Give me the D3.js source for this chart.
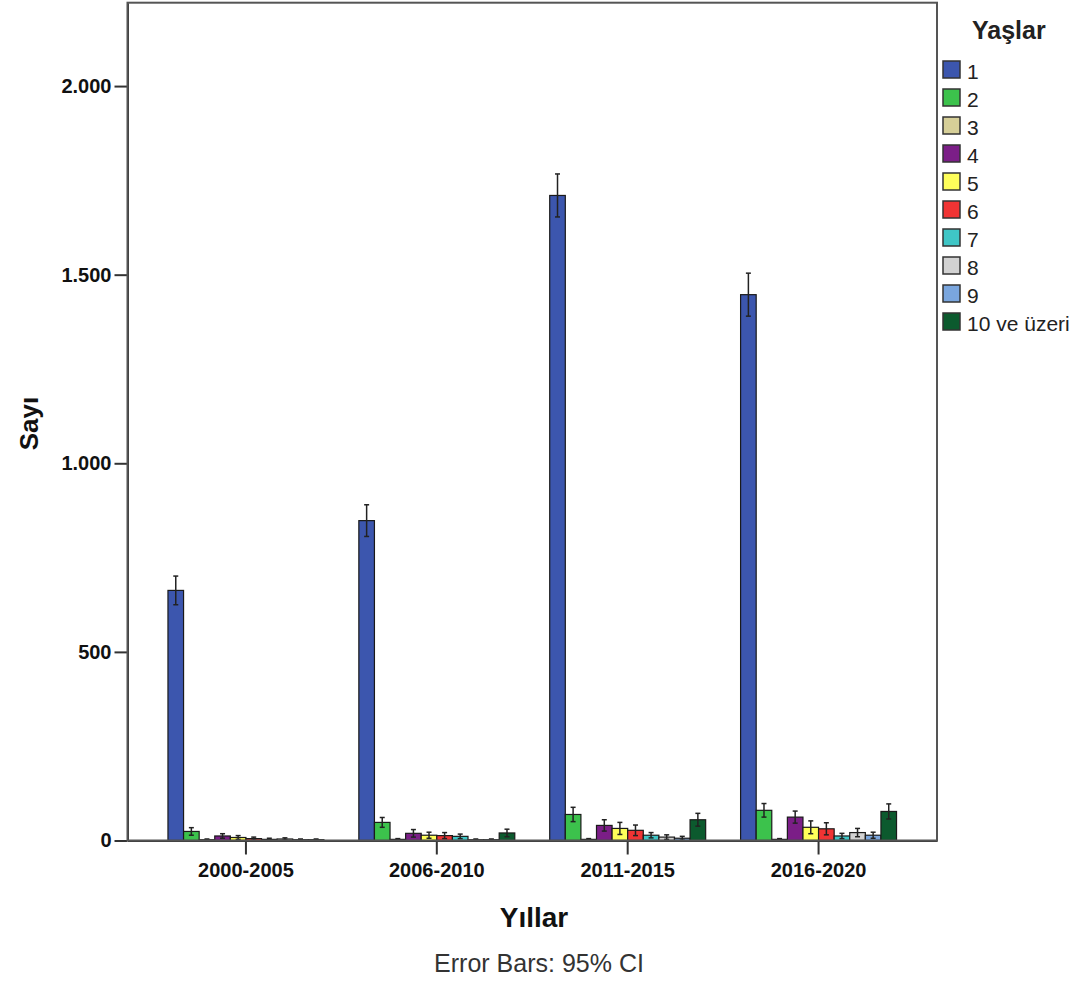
<!DOCTYPE html>
<html>
<head>
<meta charset="utf-8">
<script src="https://cdn.jsdelivr.net/npm/d3@7"></script>
<style>
  body { margin: 0; background: #fff; }
  text { font-family: "Liberation Sans", Arial, sans-serif; }
</style>
</head>
<body>
<div id="chart"></div>
<script>
// Data
var periods = ['2000-2005', '2006-2010', '2011-2015', '2016-2020'];
var ages = ['1', '2', '3', '4', '5', '6', '7', '8', '9', '10 ve üzeri'];
var ageColors = ['#3c56ae', '#3cc24c', '#d6cf98', '#7b1e87', '#ffff5a', '#f03434', '#3fc6c6', '#d2d2d2', '#7aa6de', '#0c5a2e'];

// mean per age, one array per period
var means = [
  [663, 24, 2, 12, 8, 5, 3, 4, 2, 2],
  [848, 48, 3, 19, 14, 13, 11, 2, 2, 20],
  [1710, 69, 3, 40, 32, 27, 14, 9, 6, 55],
  [1447, 80, 3, 62, 35, 31, 12, 21, 14, 77]
];
// 95% CI half width
var ciHalf = [
  [38, 10, 2, 6, 5, 4, 3, 3, 2, 2],
  [42, 13, 2, 10, 8, 8, 6, 2, 2, 10],
  [57, 19, 2, 15, 16, 14, 7, 6, 5, 17],
  [57, 18, 2, 16, 17, 16, 7, 11, 8, 20]
];
var yTicks = [0, 500, 1000, 1500, 2000];

var W = 1089, H = 982;
var plot = { left: 127.5, right: 937, top: 2.7, bottom: 840.5 };

var svg = d3.select('#chart')
  .append('svg')
    .attr('width', W)
    .attr('height', H);

// Scales
var X = d3.scaleBand()
  .domain(periods)
  .range([plot.left, plot.right])
  .paddingInner(0.183)
  .paddingOuter(0.212);

var XA = d3.scaleBand()
  .domain(ages)
  .range([0, X.bandwidth()]);

var Y = d3.scaleLinear()
  .domain([0, 2221])
  .range([plot.bottom, plot.top]);

var fmt = function (d) { return d3.format(',')(d).replace(/,/g, '.'); };

// Bars
var rows = [];
periods.forEach(function (p, i) {
  ages.forEach(function (a, j) {
    rows.push({ period: p, age: a, color: ageColors[j], mean: means[i][j], ci: ciHalf[i][j] });
  });
});

var bars = svg.append('g');
bars.selectAll('rect')
  .data(rows)
  .enter()
  .append('rect')
    .attr('x', function (d) { return X(d.period) + XA(d.age); })
    .attr('y', function (d) { return Y(d.mean); })
    .attr('width', XA.bandwidth())
    .attr('height', function (d) { return Y(0) - Y(d.mean); })
    .attr('fill', function (d) { return d.color; })
    .attr('stroke', '#1a1a1a')
    .attr('stroke-width', 1.2);

// Error bars
var err = svg.append('g')
  .attr('stroke', '#222')
  .attr('stroke-width', 1.5);
rows.forEach(function (d) {
  var cx = X(d.period) + XA(d.age) + XA.bandwidth() / 2;
  var lo = Math.max(0, d.mean - d.ci), hi = d.mean + d.ci;
  err.append('line').attr('x1', cx).attr('x2', cx).attr('y1', Y(lo)).attr('y2', Y(hi));
  err.append('line').attr('x1', cx - 2.5).attr('x2', cx + 2.5).attr('y1', Y(hi)).attr('y2', Y(hi));
  err.append('line').attr('x1', cx - 2.5).attr('x2', cx + 2.5).attr('y1', Y(lo)).attr('y2', Y(lo));
});

// Y Axis
var yAxis = svg.append('g')
  .attr('transform', 'translate(' + plot.left + ',0)')
  .call(d3.axisLeft(Y).tickValues(yTicks).tickFormat(fmt).tickSize(13).tickSizeOuter(0).tickPadding(3));
yAxis.select('.domain').attr('stroke', '#333').attr('stroke-width', 2);
yAxis.selectAll('.tick line').attr('stroke', '#333').attr('stroke-width', 2);
yAxis.selectAll('.tick text')
  .attr('font-size', '20px')
  .attr('font-weight', 'bold')
  .attr('fill', '#111');

// X Axis
var xAxis = svg.append('g')
  .attr('transform', 'translate(0,' + plot.bottom + ')')
  .call(d3.axisBottom(X).tickSize(14).tickSizeOuter(0).tickPadding(8));
xAxis.select('.domain').attr('stroke', '#333').attr('stroke-width', 2);
xAxis.selectAll('.tick line').attr('stroke', '#333').attr('stroke-width', 2);
xAxis.selectAll('.tick text')
  .attr('font-size', '20px')
  .attr('font-weight', 'bold')
  .attr('fill', '#111');

// Frame
svg.append('rect')
  .attr('x', plot.left)
  .attr('y', plot.top)
  .attr('width', plot.right - plot.left)
  .attr('height', plot.bottom - plot.top)
  .attr('fill', 'none')
  .attr('stroke', '#555')
  .attr('stroke-width', 2);

// Axis titles
svg.append('text')
  .attr('transform', 'translate(38,' + ((plot.top + plot.bottom) / 2 + 2) + ') rotate(-90)')
  .attr('text-anchor', 'middle')
  .attr('font-size', '26px')
  .attr('font-weight', 'bold')
  .attr('fill', '#111')
  .text('Sayı');

svg.append('text')
  .attr('x', 534)
  .attr('y', 927)
  .attr('text-anchor', 'middle')
  .attr('font-size', '28px')
  .attr('font-weight', 'bold')
  .attr('fill', '#111')
  .text('Yıllar');

svg.append('text')
  .attr('x', 539)
  .attr('y', 972)
  .attr('text-anchor', 'middle')
  .attr('font-size', '25px')
  .attr('fill', '#333')
  .text('Error Bars: 95% CI');

// Legend
var legend = svg.append('g');
legend.append('text')
  .attr('x', 972)
  .attr('y', 39)
  .attr('font-size', '25px')
  .attr('font-weight', 'bold')
  .attr('fill', '#222')
  .text('Yaşlar');

var item = legend.selectAll('g.item')
  .data(ages)
  .enter()
  .append('g')
    .attr('class', 'item')
    .attr('transform', function (d, i) { return 'translate(943,' + (61 + i * 28) + ')'; });
item.append('rect')
  .attr('width', 17)
  .attr('height', 17)
  .attr('fill', function (d, i) { return ageColors[i]; })
  .attr('stroke', '#333')
  .attr('stroke-width', 1.5);
item.append('text')
  .attr('x', 24)
  .attr('y', 18)
  .attr('font-size', '21px')
  .attr('fill', '#222')
  .text(function (d) { return d; });
</script>
</body>
</html>
